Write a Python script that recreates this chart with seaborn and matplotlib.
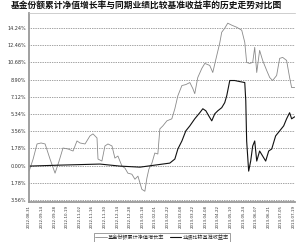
import matplotlib
matplotlib.use("Agg")
import matplotlib.pyplot as plt
from matplotlib.ticker import FixedLocator
import seaborn as sns
import pandas as pd

sns.set_style("white")
plt.rcParams['font.family'] = ['Noto Sans CJK SC', 'DejaVu Sans']

title = "基金份额累计净值增长率与同期业绩比较基准收益率的历史走势对比图"
fund_name = "基金份额累计净值增长率"
bench_name = "业绩比较基准收益率"

date_labels = ["2012-08-31", "2012-09-14", "2012-09-28", "2012-10-19", "2012-11-02",
               "2012-11-16", "2012-11-30", "2012-12-14", "2012-12-28", "2013-01-18",
               "2013-02-01", "2013-02-22", "2013-03-08", "2013-03-22", "2013-04-08",
               "2013-04-22", "2013-05-10", "2013-05-24", "2013-06-07", "2013-06-21",
               "2013-07-05", "2013-07-19"]
tick_pos = [0, 10, 20, 30, 40, 50, 60, 70, 80, 90, 100, 110, 120, 130, 140, 150,
            160, 170, 180, 190, 200, 210]
y_ticks = [-3.56, -1.78, 0.00, 1.78, 3.56, 5.34, 7.12, 8.90, 10.68, 12.46, 14.24]
y_labels = ["3.56%", "1.78%", "0.00%", "1.78%", "3.56%", "5.34%", "7.12%", "8.90%",
            "10.68%", "12.46%", "14.24%"]

fund_day = [0, 3.2, 6.3, 9.5, 12.7, 16.6, 20.6, 23.8, 26.9, 30.9, 34.9, 38.0, 40.4, 44.4,
            48.3, 50.7, 53.9, 54.7, 57.8, 60.2, 62.6, 65.8, 68.1, 70.5, 73.7, 76.1, 78.4,
            81.6, 84.0, 86.4, 89.5, 91.9, 93.5, 95.1, 97.5, 99.8, 102.2, 103.8, 106.2,
            109.4, 113.3, 115.7, 118.1, 121.3, 124.4, 127.6, 130.0, 131.5, 133.9, 137.1,
            139.5, 143.4, 145.8, 149.0, 151.3, 152.9, 155.3, 157.7, 160.9, 164.8, 168.8,
            171.2, 172.7, 175.1, 177.5, 179.1, 180.7, 183.0, 185.4, 188.6, 191.0, 193.3,
            196.5, 198.9, 201.3, 204.4, 206.8, 208.4, 210.8]
fund_val = [-0.57, 0.68, 2.24, 2.34, 2.24, 0.68, -0.78, 0.47, 1.82, 1.72, 1.51, 2.55, 2.34,
            2.24, 3.07, 3.28, 2.86, 0.68, 0.47, 2.03, 2.24, 2.03, 0.78, 0.99, -0.05, -0.26,
            -0.78, -0.89, -1.41, -1.09, -2.45, -2.65, -1.30, -0.36, 0.26, 1.30, 1.20, 3.80,
            4.11, 4.63, 4.84, 5.88, 7.23, 8.28, 8.38, 8.59, 7.96, 7.44, 9.11, 10.05, 10.57,
            10.36, 9.63, 11.40, 12.65, 13.79, 14.21, 14.73, 14.52, 14.31, 14.00, 12.75,
            10.67, 10.57, 10.67, 12.23, 9.63, 11.92, 10.88, 9.84, 9.11, 8.80, 9.32, 11.09,
            11.19, 10.88, 9.11, 8.07, 8.07]

bench_day = [0, 24.6, 56.3, 72.1, 88.0, 99.8, 111.7, 115.7, 118.1, 121.3, 124.4, 127.6,
             131.5, 135.5, 137.9, 140.3, 142.6, 145.0, 147.4, 149.8, 152.9, 155.3, 156.9,
             159.3, 163.2, 167.2, 171.2, 172.0, 172.7, 174.3, 175.9, 177.5, 179.1, 180.7,
             183.0, 185.4, 187.8, 190.2, 192.6, 195.7, 198.9, 202.1, 204.4, 206.8, 208.4,
             210.8]
bench_val = [-0.05, 0.05, 0.16, -0.05, -0.16, 0.05, 0.26, 0.68, 1.72, 2.55, 3.59, 4.11,
             4.84, 5.47, 5.88, 5.67, 5.15, 4.63, 5.36, 5.67, 5.99, 6.51, 7.23, 8.80, 8.80,
             8.69, 8.59, 6.71, 2.55, -0.57, 0.47, 2.03, 2.55, 0.47, 1.51, 0.99, 0.47, 1.51,
             1.72, 3.07, 3.59, 4.11, 4.84, 5.47, 4.84, 5.05]

df_f = pd.DataFrame({"day": fund_day, "val": fund_val})
df_b = pd.DataFrame({"day": bench_day, "val": bench_val})

fig = plt.figure(figsize=(3.0, 2.42), dpi=100)
ax = fig.add_axes([0.097, 0.165, 0.886, 0.78])

sns.lineplot(data=df_f, x="day", y="val", ax=ax, color="#8a8a8a", linewidth=0.6,
             estimator=None, sort=False, label=fund_name)
sns.lineplot(data=df_b, x="day", y="val", ax=ax, color="#111111", linewidth=0.8,
             estimator=None, sort=False, label=bench_name)

ax.set_xlim(tick_pos[0], tick_pos[-1] + 1)
ax.set_ylim(-3.77, 15.75)
ax.set_xticks(tick_pos)
ax.set_xticklabels(date_labels, rotation=90, fontsize=2.9, color="#333333",
                   family=['DejaVu Sans'])
ax.xaxis.set_minor_locator(FixedLocator(tick_pos[1::2]))
ax.set_yticks(y_ticks)
ax.set_yticklabels(y_labels, fontsize=3.5, color="#333333", family=['DejaVu Sans'])
ax.tick_params(axis='both', which='both', length=0, pad=2)
ax.set_xlabel("")
ax.set_ylabel("")

ax.grid(axis='y', which='major', linestyle=(0, (1, 1.5)), color="#444444", linewidth=0.5)
ax.grid(axis='x', which='minor', linestyle=(0, (1, 1.5)), color="#444444", linewidth=0.5)
ax.grid(axis='x', which='major', visible=False)

ax.spines['right'].set_visible(False)
ax.spines['top'].set_color("#bbbbbb")
ax.spines['top'].set_linewidth(0.5)
for s in ['left', 'bottom']:
    ax.spines[s].set_color("#999999")
    ax.spines[s].set_linewidth(1.3)

leg = ax.legend(loc='upper center', bbox_to_anchor=(0.5, -0.150), ncol=2,
                fontsize=3.7, frameon=True, fancybox=False, handlelength=2.2,
                handletextpad=0.3, columnspacing=1.0, borderpad=0.3)
leg.get_frame().set_edgecolor("#555555")
leg.get_frame().set_linewidth(0.5)

fig.text(0.487, 0.978, title, ha='center', va='center', fontsize=6.3, fontweight='bold',
         color="#111111")

fig.savefig("out.png", dpi=100)
